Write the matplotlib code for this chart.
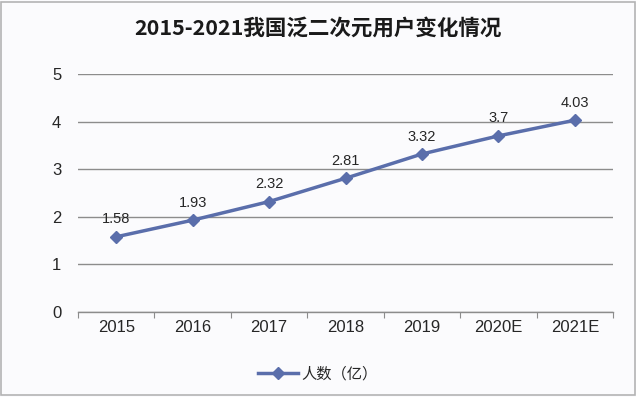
import numpy as np
import matplotlib.pyplot as plt
from matplotlib.patches import Rectangle

plt.rcParams['font.family'] = ['Liberation Sans', 'Noto Sans CJK SC', 'DejaVu Sans']

years = ['2015', '2016', '2017', '2018', '2019', '2020E', '2021E']
users = [1.58, 1.93, 2.32, 2.81, 3.32, 3.7, 4.03]
value_labels = ['1.58', '1.93', '2.32', '2.81', '3.32', '3.7', '4.03']
y_ticks = [0, 1, 2, 3, 4, 5]

line_color = '#5a6eab'
grid_color = '#8c8c8c'

fig = plt.figure(figsize=(6.36, 3.97), dpi=100)
fig.patch.set_facecolor('#fbfbfd')
# outer frame
fig.patches.append(Rectangle((0.002, 0.004), 0.996, 0.992, transform=fig.transFigure,
                             fill=False, edgecolor='#b4b4b4', linewidth=1.2))

ax = fig.add_axes([0.1226, 0.214, 0.8414, 0.5996])
ax.set_facecolor('#fbfbfd')

x = np.arange(len(years))
ax.plot(x, users, color=line_color, linewidth=2.5, marker='D', markersize=6.5,
        markerfacecolor=line_color, markeredgecolor=line_color, label='人数（亿）',
        zorder=3)
for xi, yi, lab in zip(x, users, value_labels):
    ax.text(xi, yi + 0.22, lab, ha='center', va='bottom', fontsize=10.5,
            color='#262626')

ax.set_xlim(-0.5, len(years) - 0.5)
ax.set_ylim(0, 5)
ax.set_yticks(y_ticks)
ax.set_yticklabels([str(t) for t in y_ticks], fontsize=12, color='#262626')
ax.yaxis.grid(True, color=grid_color, linewidth=1.0)
ax.set_axisbelow(True)
ax.tick_params(axis='y', length=0, pad=12)

# category labels at centers, tick marks at boundaries
ax.set_xticks(np.arange(-0.5, len(years)), minor=False)
ax.set_xticklabels([])
ax.set_xticks(x, minor=True)
ax.set_xticklabels(years, minor=True, fontsize=12, color='#262626')
ax.tick_params(axis='x', which='major', length=4, color=grid_color, direction='out')
ax.tick_params(axis='x', which='minor', length=0, pad=6)

for side in ['top', 'right', 'left']:
    ax.spines[side].set_visible(False)
ax.spines['bottom'].set_color(grid_color)
ax.spines['bottom'].set_linewidth(1.0)

fig.text(0.5, 0.928, '2015-2021我国泛二次元用户变化情况', ha='center', va='center',
         fontsize=15.5, fontweight='bold', color='#1a1a1a',
         family=['Noto Sans CJK SC', 'DejaVu Sans'])

fig.legend(loc='center', bbox_to_anchor=(0.5, 0.058), frameon=False,
           prop={'family': ['Noto Sans CJK SC', 'DejaVu Sans'], 'size': 11},
           handlelength=2.6, handletextpad=0.2, labelcolor='#262626')

fig.savefig('out.png', dpi=100, facecolor=fig.get_facecolor())
